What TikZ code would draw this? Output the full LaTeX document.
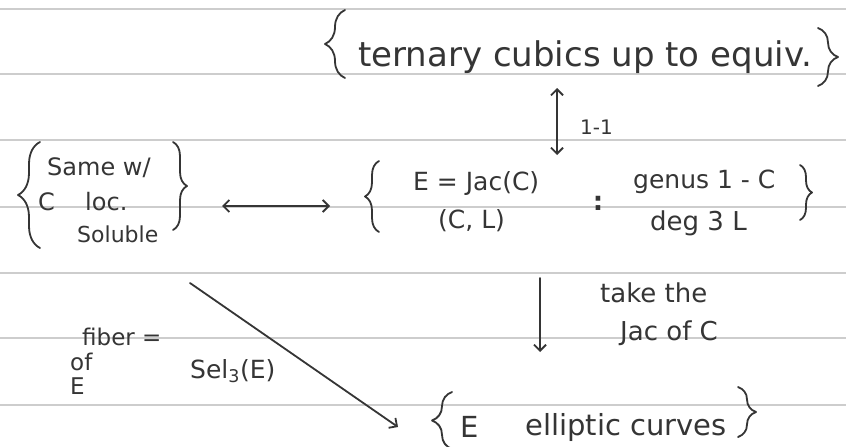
\documentclass[tikz,border=0pt]{standalone}
\usepackage{fontspec}
\setmainfont{DejaVu Sans}
\usetikzlibrary{arrows.meta,decorations.pathreplacing}
\definecolor{ink}{HTML}{353535}
\definecolor{rulec}{HTML}{CDCDCD}
\newcommand{\fsz}[1]{\fontsize{#1}{#1}\selectfont}
\begin{document}
\begin{tikzpicture}[x=1pt,y=-1pt,
  hw/.style={text=ink,inner sep=0pt,anchor=base west,font=\fsz{#1}},
  hw/.default=24,
  pen/.style={draw=ink,line width=1.8pt,line cap=round,line join=round},
  tip/.tip={Straight Barb[length=6pt,width=12pt]},
  arr/.style={pen,-tip},
  darr/.style={pen,tip-tip},
  brl/.style={pen,decorate,decoration={brace,amplitude=#1}},
  ruleline/.style={draw=rulec,line width=2.6pt}]
\useasboundingbox (0,0) rectangle (846,447);
\fill[white] (0,0) rectangle (846,447);
\foreach \y in {9,74,140,207,273,338,405} \draw[ruleline] (0,\y) -- (846,\y);

% top set
\node[hw=34] (cubics) at (358,66) {ternary cubics up to equiv.};
\draw[brl=20pt] (345,78) -- (345,10);
\draw[brl=20pt] (818,28) -- (818,86);

% 1-1 arrow
\coordinate (ua) at (557,88);
\coordinate (ub) at (557,155);
\draw[darr] (ua) -- (ub);
\node[hw=20] (oneone) at (580,134) {1-1};

% left set
\node[hw=24] (same) at (47,175) {Same w/};
\node[hw=24] (cc) at (38,210) {C};
\node[hw=24] (loc) at (85,210) {loc.};
\node[hw=22] (sol) at (77,242) {Soluble};
\draw[brl=22pt] (40,248) -- (40,142);
\draw[brl=14pt] (173,142) -- (173,230);

% horizontal arrow
\coordinate (ha) at (222,206);
\coordinate (hb) at (330,206);
\draw[darr] (ha) -- (hb);

% middle set
\node[hw=25] (ejac) at (413,190) {E = Jac(C)};
\node[hw=25] (cl) at (438,228) {(C, L)};
\node[text=ink,inner sep=0pt,font=\bfseries\fsz{26}] (colon) at (598,203) {:};
\node[hw=25] (genus) at (633,188) {genus 1 - C};
\node[hw=26] (deg) at (650,230) {deg 3 L};
\draw[brl=14pt] (379,232) -- (379,161);
\draw[brl=12pt] (800,165) -- (800,220);

% down arrow
\coordinate (da) at (540,278);
\coordinate (db) at (540,352);
\draw[arr] (da) -- (db);
\node[hw=26] (take) at (600,302) {take the};
\node[hw=26] (jacof) at (620,340) {Jac of C};

% diagonal arrow
\coordinate (sa) at (190,283);
\coordinate (sb) at (398,427);
\draw[arr] (sa) -- (sb);
\node[hw=23] (fiber) at (82,345) {fiber =};
\node[hw=23] (of) at (70,370) {of};
\node[hw=23] (fe) at (70,394) {E};
\node[hw=25] (sel) at (190,378) {Sel\textsubscript{3}(E)};

% bottom set
\node[hw=29] (be) at (460,437) {E};
\node[hw=29] (ell) at (525,435) {elliptic curves};
\draw[brl=20pt] (452,449) -- (452,392);
\draw[brl=18pt] (738,387) -- (738,437);
\end{tikzpicture}
\end{document}
